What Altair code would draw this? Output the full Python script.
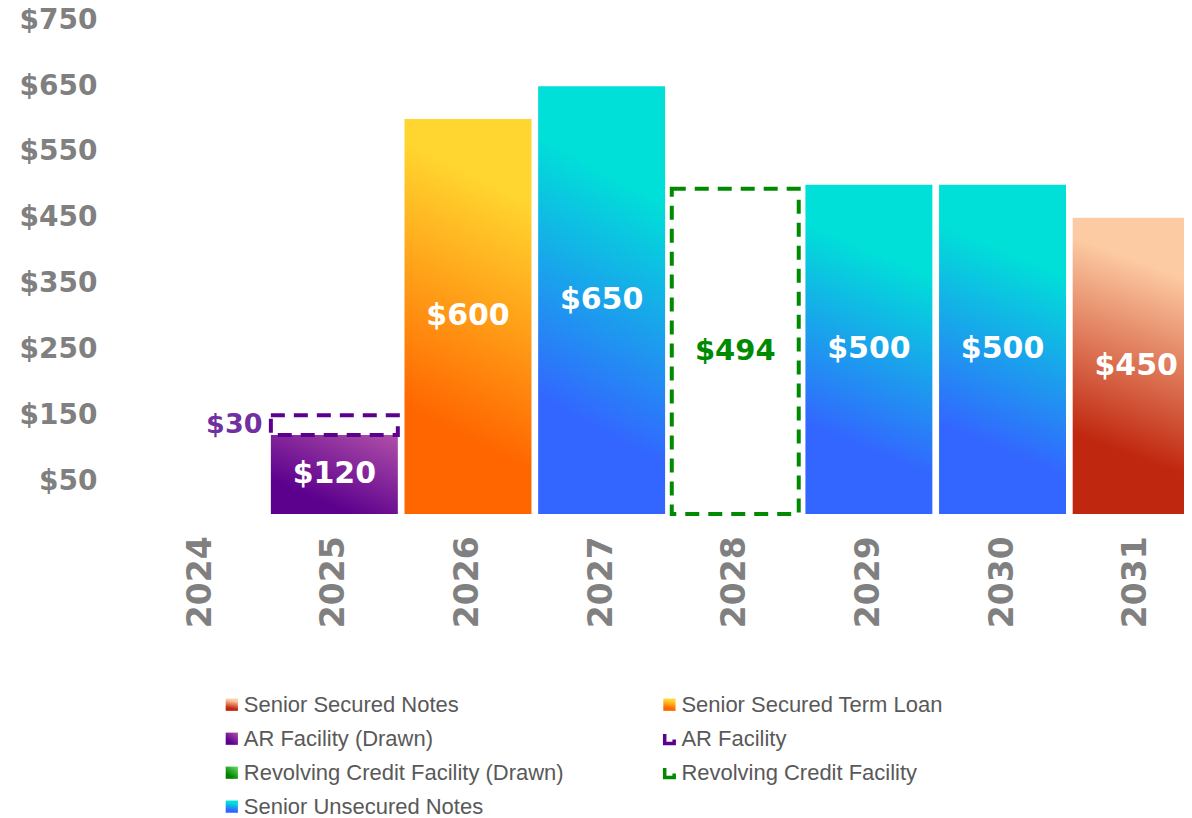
import altair as alt
import pandas as pd

# ---------------- data ----------------
years = ["2024", "2025", "2026", "2027", "2028", "2029", "2030", "2031"]

seg_year = ["2025", "2025", "2026", "2027", "2028", "2029", "2030", "2031"]
seg_series = [
    "AR Facility (Drawn)",
    "AR Facility",
    "Senior Secured Term Loan",
    "Senior Unsecured Notes",
    "Revolving Credit Facility",
    "Senior Unsecured Notes",
    "Senior Unsecured Notes",
    "Senior Secured Notes",
]
seg_start = [0, 120, 0, 0, 0, 0, 0, 0]
seg_end = [120, 150, 600, 650, 494, 500, 500, 450]
seg_label = ["$120", "$30", "$600", "$650", "$494", "$500", "$500", "$450"]

y_ticks = [50, 150, 250, 350, 450, 550, 650, 750]

legend_labels = [
    "Senior Secured Notes",
    "Senior Secured Term Loan",
    "AR Facility (Drawn)",
    "AR Facility",
    "Revolving Credit Facility (Drawn)",
    "Revolving Credit Facility",
    "Senior Unsecured Notes",
]
legend_col = [0, 1, 0, 1, 0, 1, 0]
legend_row = [0, 0, 1, 1, 2, 2, 3]

df = pd.DataFrame({
    "year": seg_year,
    "series": seg_series,
    "start": seg_start,
    "end": seg_end,
    "label": seg_label,
})
ldf = pd.DataFrame({"name": legend_labels, "lcol": legend_col, "lrow": legend_row})

# ---------------- styles ----------------
def grad(c_top, c_bot, x1=0.58, y1=0.0, x2=0.42, y2=1.0, s0=0.15, s1=0.8):
    return alt.Gradient(
        gradient="linear",
        x1=x1, y1=y1, x2=x2, y2=y2,
        stops=[
            alt.GradientStop(color=c_top, offset=0),
            alt.GradientStop(color=c_top, offset=s0),
            alt.GradientStop(color=c_bot, offset=s1),
            alt.GradientStop(color=c_bot, offset=1),
        ],
    )

fills = {
    "Senior Secured Notes": grad("#fdcba3", "#c0270f"),
    "Senior Secured Term Loan": grad("#ffd52f", "#ff6600"),
    "Senior Unsecured Notes": grad("#00e0d8", "#3366ff", s0=0.2),
    "AR Facility (Drawn)": grad("#b050a8", "#5c008e", x1=1, y1=0, x2=0.3, y2=1, s0=0.0, s1=0.85),
    "Revolving Credit Facility (Drawn)": grad("#66e066", "#008000", x1=1, y1=0, x2=0.3, y2=1, s0=0.0, s1=0.85),
}
dashed = {
    "AR Facility": "#5c008e",
    "Revolving Credit Facility": "#008a00",
}

VAL_FONT = "DejaVu Sans"
GRAY = "#808080"
PLOT_W = 1081

x_enc = alt.X(
    "year:N",
    scale=alt.Scale(domain=years, range=[30, 1100], paddingInner=0.05, paddingOuter=0.025),
    axis=alt.Axis(
        title=None, labelAngle=-90, labelFont=VAL_FONT, labelFontWeight="bold",
        labelFontSize=33, labelColor=GRAY, domain=False, ticks=False, labelPadding=22,
    ),
)
y_enc = alt.Y(
    "start:Q",
    scale=alt.Scale(domain=[0, 750], nice=False),
    axis=alt.Axis(
        title=None, values=y_ticks, labelExpr="'$' + datum.value", labelFont=VAL_FONT,
        labelFontWeight="bold", labelFontSize=28, labelColor=GRAY, domain=False,
        ticks=False, grid=False, labelPadding=7,
    ),
)

base = alt.Chart(df).encode(x=x_enc, y=y_enc, y2="end:Q")

layers = []
for s in ["AR Facility (Drawn)", "Senior Secured Term Loan", "Senior Unsecured Notes", "Senior Secured Notes"]:
    kw = {}
    if s == "Senior Secured Notes":
        kw["clip"] = True
    layers.append(
        base.transform_filter(alt.datum.series == s).mark_bar(color=fills[s], **kw)
    )
for s, c in dashed.items():
    layers.append(
        base.transform_filter(alt.datum.series == s).mark_bar(
            fill="white", fillOpacity=0, stroke=c, strokeWidth=4, strokeDash=[14, 9]
        )
    )

lab = base.transform_calculate(mid="(datum.start + datum.end) / 2").encode(
    y=alt.Y("mid:Q"), text="label:N"
)
inside = lab.transform_filter(
    (alt.datum.series != "AR Facility") & (alt.datum.series != "Revolving Credit Facility")
).mark_text(font=VAL_FONT, fontWeight="bold", fontSize=30, color="white", baseline="middle")
rcf_lab = lab.transform_filter(alt.datum.series == "Revolving Credit Facility").mark_text(
    font=VAL_FONT, fontWeight="bold", fontSize=29, color="#008a00", baseline="middle"
)
ar_lab = lab.transform_filter(alt.datum.series == "AR Facility").mark_text(
    font=VAL_FONT, fontWeight="bold", fontSize=27, color="#7030a0", baseline="middle",
    align="right", dx=-72,
)

bars = alt.layer(*layers, inside, rcf_lab, ar_lab).properties(width=PLOT_W, height=494)

# ---------------- legend ----------------
lbase = alt.Chart(ldf).encode(
    x=alt.X("lcol:Q", scale=alt.Scale(domain=[0, 1], range=[128, 566]), axis=None),
    y=alt.Y("lrow:Q", scale=alt.Scale(domain=[0, 3], range=[77, 179]), axis=None),
)
leg_layers = []
for name, g in fills.items():
    leg_layers.append(
        lbase.transform_filter(alt.datum.name == name).mark_square(
            size=150, color=g, filled=True, opacity=1
        )
    )
for name, c in dashed.items():
    leg_layers.append(
        lbase.transform_filter(alt.datum.name == name).mark_square(
            size=90, filled=False, stroke=c, strokeWidth=3.5, strokeDash=[23, 15],
            strokeDashOffset=23, opacity=1
        )
    )
leg_text = lbase.mark_text(
    align="left", baseline="middle", dx=12, font="Liberation Sans", fontSize=22, color="#595959"
).encode(text="name:N")

legend = alt.layer(*leg_layers, leg_text).properties(width=PLOT_W, height=182)

chart = alt.vconcat(bars, legend, spacing=0).properties(
    padding={"left": 11, "top": -2, "right": 0, "bottom": 0}
).configure_view(stroke=None)

chart.save("out.html", embed_options={"renderer": "svg", "actions": False})
